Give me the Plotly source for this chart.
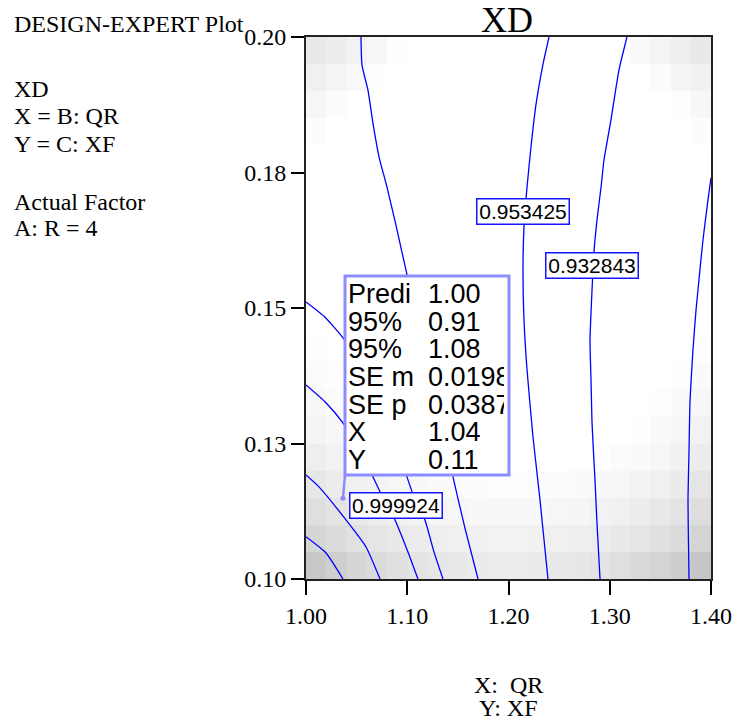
import plotly.graph_objects as go

# ---------------- data ----------------
# heat-map (shading) cell centres
x_centers = [1.01, 1.03, 1.05, 1.07, 1.09, 1.11, 1.13, 1.15, 1.17, 1.19,
             1.21, 1.23, 1.25, 1.27, 1.29, 1.31, 1.33, 1.35, 1.37, 1.39]
y_centers = [0.1025, 0.1075, 0.1125, 0.1175, 0.1225, 0.1275, 0.1325, 0.1375,
             0.1425, 0.1475, 0.1525, 0.1575, 0.1625, 0.1675, 0.1725, 0.1775,
             0.1825, 0.1875, 0.1925, 0.1975]
# darkness of the shading (0 = white), rows from bottom to top
shade = [
    [55, 48, 41, 36, 31, 27, 24, 22, 20, 19, 19, 20, 22, 24, 27, 32, 37, 43, 50, 57],
    [41, 35, 30, 26, 22, 19, 17, 15, 14, 13, 13, 14, 15, 17, 19, 22, 26, 31, 36, 43],
    [32, 27, 23, 19, 15, 13, 10, 9, 7, 7, 7, 7, 9, 10, 13, 15, 19, 23, 28, 34],
    [24, 19, 15, 12, 9, 7, 5, 3, 3, 2, 2, 3, 3, 5, 7, 9, 12, 15, 20, 26],
    [17, 13, 9, 6, 4, 1, 0, 0, 0, 0, 0, 0, 0, 0, 1, 4, 6, 9, 14, 19],
    [11, 8, 5, 2, 0, 0, 0, 0, 0, 0, 0, 0, 0, 0, 0, 0, 2, 5, 9, 13],
    [7, 4, 2, 0, 0, 0, 0, 0, 0, 0, 0, 0, 0, 0, 0, 0, 0, 2, 5, 8],
    [4, 2, 0, 0, 0, 0, 0, 0, 0, 0, 0, 0, 0, 0, 0, 0, 0, 0, 2, 5],
    [2, 0, 0, 0, 0, 0, 0, 0, 0, 0, 0, 0, 0, 0, 0, 0, 0, 0, 0, 2],
    [0, 0, 0, 0, 0, 0, 0, 0, 0, 0, 0, 0, 0, 0, 0, 0, 0, 0, 0, 0],
    [0, 0, 0, 0, 0, 0, 0, 0, 0, 0, 0, 0, 0, 0, 0, 0, 0, 0, 0, 0],
    [0, 0, 0, 0, 0, 0, 0, 0, 0, 0, 0, 0, 0, 0, 0, 0, 0, 0, 0, 0],
    [0, 0, 0, 0, 0, 0, 0, 0, 0, 0, 0, 0, 0, 0, 0, 0, 0, 0, 0, 0],
    [0, 0, 0, 0, 0, 0, 0, 0, 0, 0, 0, 0, 0, 0, 0, 0, 0, 0, 0, 0],
    [0, 0, 0, 0, 0, 0, 0, 0, 0, 0, 0, 0, 0, 0, 0, 0, 0, 0, 0, 0],
    [0, 0, 0, 0, 0, 0, 0, 0, 0, 0, 0, 0, 0, 0, 0, 0, 0, 0, 0, 0],
    [3, 0, 0, 0, 0, 0, 0, 0, 0, 0, 0, 0, 0, 0, 0, 0, 0, 0, 0, 3],
    [9, 3, 0, 0, 0, 0, 0, 0, 0, 0, 0, 0, 0, 0, 0, 0, 0, 0, 2, 8],
    [15, 11, 6, 1, 0, 0, 0, 0, 0, 0, 0, 0, 0, 0, 0, 0, 0, 4, 10, 14],
    [23, 18, 13, 7, 1, 0, 0, 0, 0, 0, 0, 0, 0, 0, 0, 0, 5, 11, 17, 22],
]

# contour lines of XD
contour_x = [
    [1.000, 1.0198, 1.0365],
    [1.000, 1.0128, 1.0395, 1.0593, 1.0731],
    [1.000, 1.0188, 1.0365, 1.0533, 1.0662, 1.0731, 1.0879, 1.1007, 1.1106],
    [1.000, 1.0188, 1.0365, 1.0632, 1.0849, 1.0998, 1.1077, 1.1175, 1.1264, 1.1353],
    [1.0543, 1.0553, 1.0612, 1.0662, 1.0721, 1.0800, 1.0899, 1.0998, 1.1126,
     1.1294, 1.1452, 1.1570, 1.1699],
    [1.2400, 1.2341, 1.2272, 1.2222, 1.2183, 1.2153, 1.2143, 1.2153, 1.2183,
     1.2242, 1.2311, 1.2390],
    [1.3170, 1.3091, 1.3012, 1.2943, 1.2914, 1.2874, 1.2844, 1.2825, 1.2805,
     1.2815, 1.2825, 1.2854, 1.2874, 1.2904],
    [1.4000, 1.3970, 1.3921, 1.3881, 1.3852, 1.3822, 1.3793, 1.3783, 1.3773, 1.3783],
]
contour_y = [
    [0.1078, 0.1048, 0.1000],
    [0.1192, 0.1170, 0.1109, 0.1059, 0.1000],
    [0.1358, 0.1327, 0.1288, 0.1238, 0.1188, 0.1161, 0.1109, 0.1050, 0.1000],
    [0.1511, 0.1483, 0.1445, 0.1367, 0.1275, 0.1188, 0.1146, 0.1109, 0.1050, 0.1000],
    [0.2000, 0.1948, 0.1902, 0.1840, 0.1779, 0.1723, 0.1644, 0.1561, 0.1459,
     0.1330, 0.1188, 0.1094, 0.1000],
    [0.2000, 0.1950, 0.1876, 0.1797, 0.1723, 0.1649, 0.1570, 0.1478, 0.1386,
     0.1262, 0.1146, 0.1000],
    [0.2000, 0.1939, 0.1847, 0.1773, 0.1723, 0.1662, 0.1603, 0.1533, 0.1441,
     0.1367, 0.1288, 0.1183, 0.1103, 0.1000],
    [0.1740, 0.1699, 0.1626, 0.1552, 0.1496, 0.1423, 0.1330, 0.1238, 0.1146, 0.1000],
]

# contour labels
label_text = ["0.953425", "0.932843", "0.999924"]
label_x = [1.2148, 1.2820, 1.0884]
label_y = [0.1678, 0.1578, 0.1135]

# probe (flag) point
probe_x = 1.0365
probe_y = 0.1149
tip_labels = ["Predi", "95%", "95%", "SE m", "SE p", "X", "Y"]
tip_values = ["1.00", "0.91", "1.08", "0.0198", "0.0387", "1.04", "0.11"]

# axes ticks
x_tickvals = [1.00, 1.10, 1.20, 1.30, 1.40]
x_ticktext = ["1.00", "1.10", "1.20", "1.30", "1.40"]
y_tickvals = [0.100, 0.125, 0.150, 0.175, 0.200]
y_ticktext = ["0.10", "0.13", "0.15", "0.18", "0.20"]

side_text = ["DESIGN-EXPERT Plot", "XD", "X = B: QR", "Y = C: XF",
             "Actual Factor", "A: R = 4"]

# ---------------- layout helpers ----------------
W, H = 735, 724
L, R, T, B = 306, 711, 37, 579
X0, X1 = 1.0, 1.4
Y0, Y1 = 0.10, 0.20


def pxp(px):  # page x pixel -> paper fraction
    return (px - L) / (R - L)


def pyp(py):  # page y pixel -> paper fraction
    return (B - py) / (B - T)


def pxd(px):
    return X0 + pxp(px) * (X1 - X0)


def pyd(py):
    return Y0 + pyp(py) * (Y1 - Y0)


SERIF = "Liberation Serif, Times New Roman, serif"
SANS = "Liberation Sans, Arial, sans-serif"

fig = go.Figure()

fig.add_trace(go.Heatmap(
    x=x_centers, y=y_centers, z=shade, zmin=0, zmax=60,
    colorscale=[[0, "rgb(255,255,255)"], [1, "rgb(195,195,195)"]],
    showscale=False, hoverinfo="skip", zsmooth=False,
))

for cx, cy in zip(contour_x, contour_y):
    fig.add_trace(go.Scatter(
        x=cx, y=cy, mode="lines",
        line=dict(color="#0000ff", width=1.3, shape="spline", smoothing=0.5),
        showlegend=False, hoverinfo="skip",
    ))

annotations = []

# contour labels
for t, lx, ly in zip(label_text, label_x, label_y):
    annotations.append(dict(
        x=lx, y=ly, xref="x", yref="y", text=t, showarrow=False,
        font=dict(family=SANS, size=21, color="black"),
        bgcolor="white", bordercolor="#1414ff", borderwidth=1.5, borderpad=0,
        width=91, height=24, xanchor="center", yanchor="middle",
    ))

# tooltip box
box_l, box_r, box_t, box_b = 345, 509, 276, 475
shapes = [dict(
    type="rect", xref="paper", yref="paper",
    x0=pxp(box_l), x1=pxp(box_r), y0=pyp(box_b), y1=pyp(box_t),
    line=dict(color="#8c8cff", width=3), fillcolor="white", layer="above",
)]
# pointer from probe point to the box
fig.add_trace(go.Scatter(
    x=[probe_x, pxd(box_l)], y=[probe_y, pyd(box_b)], mode="lines",
    line=dict(color="#8c8cff", width=2.5), showlegend=False, hoverinfo="skip",
))
fig.add_trace(go.Scatter(
    x=[probe_x], y=[probe_y], mode="markers",
    marker=dict(color="#8c8cff", size=5), showlegend=False, hoverinfo="skip",
))

row0, pitch = 294, 27.7
for i, (lab, val) in enumerate(zip(tip_labels, tip_values)):
    yc = pyp(row0 + pitch * i)
    annotations.append(dict(
        x=pxp(347), y=yc, xref="paper", yref="paper", text=lab,
        showarrow=False, xanchor="left", yanchor="middle", align="left",
        font=dict(family=SANS, size=27, color="black"), borderpad=0,
    ))
    annotations.append(dict(
        x=pxp(427), y=yc, xref="paper", yref="paper", text=val,
        showarrow=False, xanchor="left", yanchor="middle", align="left",
        width=76, font=dict(family=SANS, size=27, color="black"), borderpad=0,
    ))

# left-hand text block
side_y = [24, 89, 116, 144, 202, 228]
for t, yy in zip(side_text, side_y):
    annotations.append(dict(
        x=pxp(12), y=pyp(yy), xref="paper", yref="paper", text=t,
        showarrow=False, xanchor="left", yanchor="middle",
        font=dict(family=SERIF, size=24, color="black"),
    ))

# title
annotations.append(dict(
    x=pxp(507), y=pyp(20), xref="paper", yref="paper", text="XD",
    showarrow=False, xanchor="center", yanchor="middle", borderpad=0,
    font=dict(family=SERIF, size=36, color="black"),
))
# axis titles
annotations.append(dict(
    x=pxp(508), y=pyp(685), xref="paper", yref="paper", text="X:  QR",
    showarrow=False, xanchor="center", yanchor="middle",
    font=dict(family=SERIF, size=24, color="black"),
))
annotations.append(dict(
    x=pxp(508), y=pyp(708), xref="paper", yref="paper", text="Y: XF",
    showarrow=False, xanchor="center", yanchor="middle",
    font=dict(family=SERIF, size=24, color="black"),
))

fig.update_layout(
    width=W, height=H,
    margin=dict(l=L, r=W - R, t=T, b=H - B, pad=0, autoexpand=False),
    paper_bgcolor="white", plot_bgcolor="white",
    showlegend=False,
    annotations=annotations,
    shapes=shapes,
    xaxis=dict(
        range=[X0, X1], tickvals=x_tickvals, ticktext=x_ticktext,
        ticks="outside", ticklen=14, tickwidth=1.5, tickcolor="black",
        showline=True, mirror=True, linecolor="#222", linewidth=2,
        showgrid=False, zeroline=False, ticklabeloverflow="allow",
        tickfont=dict(family=SERIF, size=24, color="black"),
    ),
    yaxis=dict(
        range=[Y0, Y1], tickvals=y_tickvals, ticktext=y_ticktext,
        ticks="outside", ticklen=13, tickwidth=1.5, tickcolor="black",
        showline=True, mirror=True, linecolor="#222", linewidth=2,
        showgrid=False, zeroline=False,
        tickfont=dict(family=SERIF, size=24, color="black"),
    ),
)

fig.write_html(
    "out.html",
    config={"displayModeBar": False},
    post_script="document.body.style.margin='0';document.body.style.overflow='hidden';",
)
